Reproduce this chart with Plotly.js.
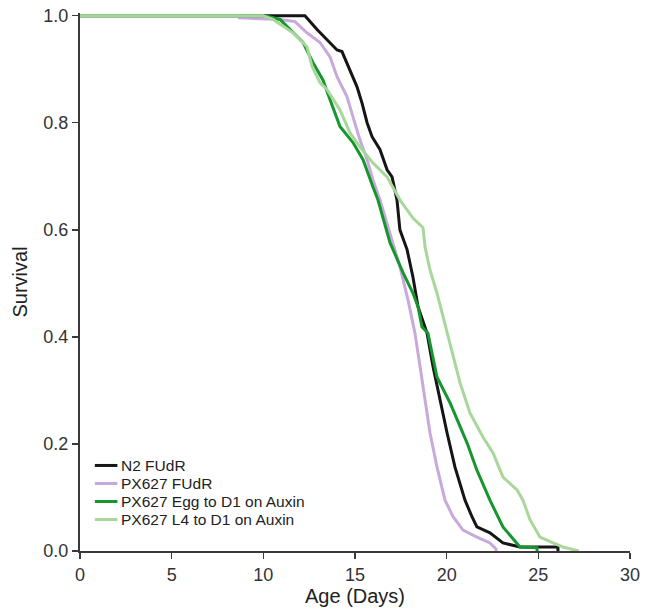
<!DOCTYPE html>
<html>
<head>
<meta charset="utf-8">
<script src="https://cdn.plot.ly/plotly-3.0.1.min.js"></script>
<style>html,body{margin:0;padding:0;background:#fff;}#chart{width:659px;height:608px;}</style>
</head>
<body>
<div id="chart"></div>
<script>
// Survival curves (day, fraction alive)
var seriesNames = ["N2 FUdR", "PX627 FUdR", "PX627 Egg to D1 on Auxin", "PX627 L4 to D1 on Auxin"];
var seriesColors = ["#151515", "#c8a9dc", "#17962f", "#a8d79c"];

var n2Days = [0, 12.27, 12.93, 13.47, 14.02, 14.29, 14.73, 15.11, 15.38, 15.66, 15.93, 16.36, 16.75, 17.02, 17.29, 17.45, 17.84, 18.16, 18.44, 18.93, 19.26, 19.64, 20.02, 20.45, 21.0, 21.38, 21.65, 22.36, 23.07, 24.0, 26.07, 26.07];
var n2Surv = [1, 1, 0.974, 0.955, 0.936, 0.933, 0.899, 0.867, 0.837, 0.8, 0.774, 0.75, 0.712, 0.699, 0.656, 0.6, 0.563, 0.512, 0.456, 0.407, 0.344, 0.282, 0.221, 0.157, 0.095, 0.064, 0.045, 0.034, 0.015, 0.0075, 0.0075, 0];

var pxDays = [0, 8.7, 8.7, 10.91, 11.73, 12.38, 13.09, 13.64, 14.02, 14.56, 14.89, 15.27, 15.66, 15.98, 16.36, 16.91, 17.45, 17.89, 18.27, 18.55, 18.82, 19.09, 19.47, 19.91, 20.35, 20.89, 21.65, 22.36, 22.69, 22.69];
var pxSurv = [1, 1, 0.996, 0.993, 0.989, 0.968, 0.95, 0.923, 0.886, 0.849, 0.811, 0.768, 0.731, 0.693, 0.656, 0.594, 0.531, 0.469, 0.407, 0.344, 0.282, 0.221, 0.157, 0.095, 0.064, 0.039, 0.026, 0.015, 0.004, 0];

var eggDays = [0, 10.09, 10.91, 11.45, 12.16, 12.71, 13.25, 13.64, 14.18, 14.89, 15.44, 15.98, 16.25, 16.91, 17.62, 18.16, 18.44, 18.65, 18.98, 19.47, 20.18, 21.11, 21.65, 22.36, 23.07, 24.0, 24.93, 24.93];
var eggSurv = [1, 1, 0.993, 0.974, 0.95, 0.912, 0.88, 0.843, 0.793, 0.763, 0.731, 0.68, 0.656, 0.576, 0.52, 0.482, 0.456, 0.419, 0.407, 0.325, 0.277, 0.202, 0.151, 0.095, 0.045, 0.0075, 0.006, 0];

var l4Days = [0, 9.98, 10.53, 11.62, 12.38, 12.66, 13.09, 13.47, 14.18, 14.73, 15.27, 15.98, 16.75, 17.45, 18.16, 18.71, 18.82, 19.09, 19.47, 19.8, 20.18, 20.73, 21.27, 21.98, 22.53, 23.07, 23.84, 24.16, 24.55, 25.09, 25.8, 26.35, 27.2];
var l4Surv = [1, 1, 0.993, 0.968, 0.942, 0.905, 0.875, 0.862, 0.824, 0.781, 0.755, 0.725, 0.699, 0.656, 0.622, 0.604, 0.568, 0.525, 0.482, 0.437, 0.389, 0.314, 0.258, 0.213, 0.183, 0.138, 0.114, 0.095, 0.058, 0.026, 0.015, 0.0075, 0];

var xTicks = [0, 5, 10, 15, 20, 25, 30];
var yTicks = [0, 0.2, 0.4, 0.6, 0.8, 1.0];

var allX = [n2Days, pxDays, eggDays, l4Days];
var allY = [n2Surv, pxSurv, eggSurv, l4Surv];

var traces = allX.map(function (xs, i) {
  return {
    x: xs, y: allY[i], type: "scatter", mode: "lines",
    name: seriesNames[i], showlegend: false,
    line: {color: seriesColors[i], width: 3, shape: "linear"}
  };
});

// Custom legend (sample line + label), placed in paper coordinates
var FONT = "Liberation Sans, Arial, sans-serif";
var legendTop = 0.159, legendStep = 0.0335;
var shapes = [], annotations = [];
seriesNames.forEach(function (name, i) {
  var yy = legendTop - i * legendStep;
  shapes.push({type: "line", xref: "paper", yref: "paper", x0: 0.027, x1: 0.068, y0: yy, y1: yy,
    line: {color: seriesColors[i], width: 3}});
  annotations.push({xref: "paper", yref: "paper", x: 0.071, y: yy, xanchor: "left", yanchor: "middle",
    text: name, showarrow: false, font: {family: FONT, size: 15.5, color: "#222"}});
});

var axisFont = {family: FONT, size: 18, color: "#333"};

var layout = {
  width: 659, height: 608,
  margin: {l: 80, r: 29, t: 13, b: 57},
  paper_bgcolor: "#fff", plot_bgcolor: "#fff",
  showlegend: false,
  shapes: shapes, annotations: annotations,
  xaxis: {
    range: [0, 30], tickvals: xTicks, ticktext: xTicks.map(String),
    showgrid: false, zeroline: false,
    showline: true, linecolor: "#3a3a3a", linewidth: 2,
    ticks: "outside", ticklen: 6, tickwidth: 1.5, tickcolor: "#3a3a3a",
    tickfont: axisFont,
    title: {text: "Age (Days)", font: {family: FONT, size: 20, color: "#222"}, standoff: 0}
  },
  yaxis: {
    range: [0, 1.005], tickvals: yTicks, ticktext: yTicks.map(function (v) { return v.toFixed(1); }),
    showgrid: false, zeroline: false,
    showline: true, linecolor: "#3a3a3a", linewidth: 2,
    ticks: "outside", ticklen: 6, tickwidth: 1.5, tickcolor: "#3a3a3a",
    tickfont: axisFont,
    title: {text: "Survival", font: {family: FONT, size: 20, color: "#222"}, standoff: 10}
  }
};

Plotly.newPlot("chart", traces, layout, {displayModeBar: false, staticPlot: true});
</script>
</body>
</html>
